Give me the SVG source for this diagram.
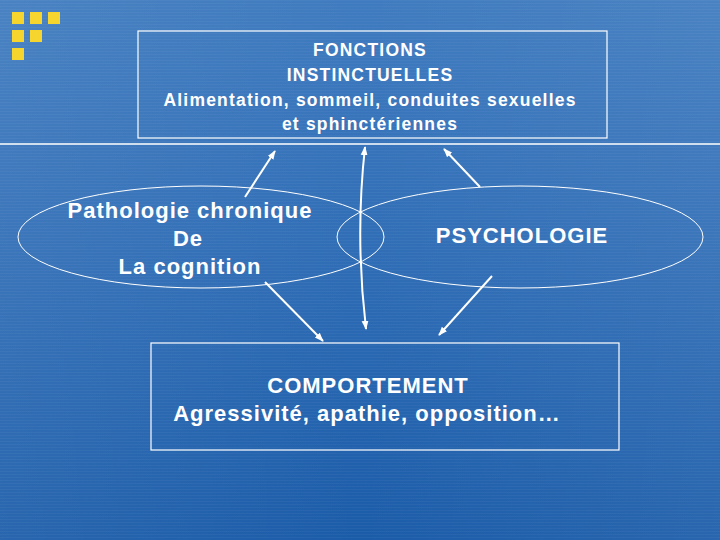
<svg xmlns="http://www.w3.org/2000/svg" width="720" height="540" viewBox="0 0 720 540">
  <defs>
    <linearGradient id="bg" x1="0" y1="0" x2="0" y2="1">
      <stop offset="0" stop-color="#3f7bbf"/>
      <stop offset="0.5" stop-color="#2e6cb5"/>
      <stop offset="1" stop-color="#1b5ca9"/>
    </linearGradient>
    <linearGradient id="side" x1="0" y1="0" x2="1" y2="0">
      <stop offset="0" stop-color="#ffffff" stop-opacity="0.06"/>
      <stop offset="0.5" stop-color="#ffffff" stop-opacity="0"/>
      <stop offset="1" stop-color="#ffffff" stop-opacity="0.06"/>
    </linearGradient>
    <pattern id="stripes" width="720" height="3" patternUnits="userSpaceOnUse">
      <rect x="0" y="0" width="720" height="1" fill="#ffffff" opacity="0.04"/>
    </pattern>
    <marker id="ah" viewBox="0 0 10 10" refX="9" refY="5" markerWidth="9" markerHeight="9" markerUnits="userSpaceOnUse" orient="auto-start-reverse">
      <path d="M0,1.2 L10,5 L0,8.8 Z" fill="#ffffff"/>
    </marker>
    <style>
      .box { fill: none; stroke: #ffffff; stroke-width: 1.2; }
      .ell { fill: none; stroke: #ffffff; stroke-width: 1; }
      .t { font-family: "Liberation Sans", Arial, sans-serif; font-weight: bold; fill: #ffffff; text-anchor: middle; }
      .t16 { font-size: 17.5px; letter-spacing: 1.2px; }
      .t21 { font-size: 22px; letter-spacing: 1px; }
      .conn { stroke: #ffffff; stroke-width: 2; fill: none; }
      .sq { fill: #f5d52e; }
    </style>
  </defs>

  <rect x="0" y="0" width="720" height="540" fill="url(#bg)"/>
  <rect x="0" y="0" width="720" height="540" fill="url(#side)"/>
  <rect x="0" y="0" width="720" height="540" fill="url(#stripes)"/>

  <g id="logo">
    <rect class="sq" x="12" y="12" width="12" height="12"/>
    <rect class="sq" x="30" y="12" width="12" height="12"/>
    <rect class="sq" x="48" y="12" width="12" height="12"/>
    <rect class="sq" x="12" y="30" width="12" height="12"/>
    <rect class="sq" x="30" y="30" width="12" height="12"/>
    <rect class="sq" x="12" y="48" width="12" height="12"/>
  </g>

  <line x1="0" y1="144" x2="720" y2="144" stroke="#ffffff" stroke-width="1.5"/>

  <g id="fonctions">
    <rect class="box" x="138" y="31" width="469" height="107"/>
    <text class="t t16" x="370" y="56">FONCTIONS</text>
    <text class="t t16" x="370" y="81">INSTINCTUELLES</text>
    <text class="t t16" x="370" y="106">Alimentation, sommeil, conduites sexuelles</text>
    <text class="t t16" x="370" y="130">et sphinctériennes</text>
  </g>

  <g id="pathologie">
    <ellipse class="ell" cx="201" cy="237" rx="183" ry="51"/>
    <text class="t t21" x="190" y="218">Pathologie chronique</text>
    <text class="t t21" x="188" y="246">De</text>
    <text class="t t21" x="190" y="274">La cognition</text>
  </g>

  <g id="psychologie">
    <ellipse class="ell" cx="520" cy="237" rx="183" ry="51"/>
    <text class="t t21" x="522" y="243">PSYCHOLOGIE</text>
  </g>

  <g id="comportement">
    <rect class="box" x="151" y="343" width="468" height="107"/>
    <text class="t t21" x="368" y="393">COMPORTEMENT</text>
    <text class="t t21" x="367" y="421">Agressivité, apathie, opposition…</text>
  </g>

  <g id="connectors">
    <line class="conn" x1="245" y1="197" x2="275" y2="151" marker-end="url(#ah)"/>
    <path class="conn" d="M365,147 Q355,237 366,329" marker-start="url(#ah)" marker-end="url(#ah)"/>
    <line class="conn" x1="480" y1="187" x2="444" y2="149" marker-end="url(#ah)"/>
    <line class="conn" x1="265" y1="282" x2="323" y2="341" marker-end="url(#ah)"/>
    <line class="conn" x1="492" y1="276" x2="439" y2="335" marker-end="url(#ah)"/>
  </g>
</svg>
